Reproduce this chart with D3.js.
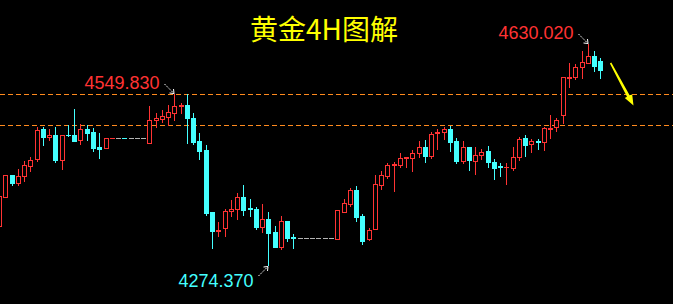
<!DOCTYPE html>
<html>
<head>
<meta charset="utf-8">
<title>黄金4H图解</title>
<style>
  html, body { margin: 0; padding: 0; background: #000; }
  svg { display: block; }
</style>
</head>
<body>
<svg width="673" height="304"></svg>
<script src="https://cdn.jsdelivr.net/npm/d3@7/dist/d3.min.js"></script>
<script>
// 4H gold bars
var open = [
  4337.1, 4383.8, 4419.2, 4406.3, 4417.6, 4433.7, 4444.9, 4493.2, 4480.4, 4483.6,
  4443.3, 4483.6, 4483.6, 4475.5, 4493.2, 4488.4, 4464.3, 4462.6, 4478.6, 4478.7,
  4478.7, 4478.7, 4478.7, 4478.7, 4470.7, 4507.2, 4509.8, 4513.0, 4519.5, 4530.2,
  4531.9, 4510.4, 4473.9, 4459.4, 4359.2, 4329.6, 4333.4, 4360.8, 4364.0, 4383.8,
  4366.1, 4364.5, 4336.0, 4348.4, 4327.5, 4303.8, 4345.2, 4319.4, 4317.3, 4317.3,
  4317.3, 4317.3, 4317.3, 4317.3, 4316.7, 4360.1, 4373.0, 4395.1, 4353.2, 4315.7,
  4331.8, 4403.6, 4418.1, 4435.3, 4435.8, 4446.1, 4447.0, 4454.1, 4464.3, 4450.3,
  4486.3, 4487.9, 4493.2, 4473.9, 4442.2, 4464.3, 4441.3, 4450.9, 4457.8, 4440.1,
  4433.2, 4431.6, 4430.0, 4447.7, 4478.7, 4468.6, 4473.9, 4471.8, 4493.2, 4495.9,
  4516.3, 4575.8, 4577.4, 4592.5, 4599.9, 4610.2, 4602.2
]
var high = [
  4388.6, 4419.2, 4419.2, 4428.9, 4441.7, 4448.1, 4496.4, 4496.4, 4493.2, 4496.4,
  4483.6, 4499.7, 4525.4, 4501.3, 4499.7, 4494.8, 4486.8, 4478.7, 4478.7, 4478.7,
  4478.7, 4478.7, 4478.7, 4478.7, 4530.2, 4519.0, 4523.8, 4531.9, 4549.83, 4534.6,
  4549.0, 4519.0, 4486.8, 4467.0, 4359.2, 4343.1, 4364.0, 4378.5, 4390.2, 4403.1,
  4380.6, 4367.7, 4372.5, 4359.7, 4337.6, 4353.2, 4345.2, 4324.3, 4317.3, 4317.3,
  4317.3, 4317.3, 4317.3, 4317.3, 4362.9, 4380.6, 4397.8, 4401.5, 4356.4, 4333.9,
  4419.2, 4425.6, 4438.0, 4440.6, 4454.6, 4448.6, 4459.4, 4473.4, 4475.5, 4487.9,
  4493.2, 4496.9, 4498.1, 4478.3, 4473.9, 4464.3, 4464.3, 4460.6, 4465.9, 4444.5,
  4438.0, 4438.0, 4464.3, 4480.4, 4483.6, 4477.1, 4477.1, 4496.9, 4515.8, 4510.4,
  4576.4, 4598.9, 4597.8, 4618.3, 4630.02, 4618.3, 4607.5
]
var low = [
  4333.9, 4383.8, 4403.1, 4403.1, 4409.5, 4425.6, 4441.7, 4467.5, 4475.5, 4440.1,
  4428.9, 4482.5, 4473.9, 4469.1, 4475.5, 4457.8, 4446.5, 4462.6, 4478.6, 4478.7,
  4478.6, 4478.7, 4478.7, 4478.7, 4470.7, 4495.9, 4505.0, 4499.7, 4507.7, 4518.5,
  4471.2, 4469.6, 4445.4, 4355.3, 4302.2, 4321.5, 4321.5, 4353.7, 4348.8, 4355.3,
  4353.7, 4332.8, 4328.0, 4274.37, 4303.8, 4300.6, 4313.5, 4302.2, 4317.3, 4317.3,
  4317.3, 4317.3, 4317.3, 4317.3, 4316.7, 4360.1, 4369.8, 4345.7, 4308.6, 4314.6,
  4331.8, 4396.2, 4414.9, 4393.9, 4431.6, 4432.6, 4426.1, 4447.7, 4440.6, 4447.0,
  4461.5, 4476.6, 4458.3, 4439.0, 4439.0, 4426.8, 4421.3, 4444.5, 4432.1, 4413.3,
  4418.1, 4405.2, 4426.8, 4442.8, 4450.3, 4456.7, 4461.5, 4458.9, 4478.7, 4490.5,
  4503.4, 4561.3, 4573.2, 4575.8, 4599.9, 4587.0, 4575.8
]
var close = [
  4385.4, 4419.2, 4406.3, 4417.6, 4435.3, 4443.3, 4491.6, 4480.4, 4483.6, 4443.3,
  4483.6, 4483.0, 4473.9, 4493.2, 4486.8, 4462.6, 4461.0, 4478.7, 4478.7, 4478.7,
  4478.6, 4478.7, 4478.7, 4478.7, 4507.7, 4510.4, 4513.7, 4520.1, 4530.2, 4532.3,
  4511.4, 4472.8, 4458.3, 4358.5, 4329.6, 4330.2, 4361.3, 4364.0, 4383.8, 4362.9,
  4364.0, 4336.0, 4348.4, 4326.3, 4303.8, 4345.2, 4318.3, 4317.3, 4317.3, 4317.3,
  4317.3, 4317.3, 4317.3, 4317.3, 4362.9, 4373.6, 4395.1, 4352.1, 4313.5, 4330.7,
  4404.7, 4418.7, 4434.8, 4437.4, 4446.1, 4447.7, 4454.1, 4463.8, 4450.3, 4484.7,
  4487.9, 4492.7, 4472.8, 4442.2, 4464.3, 4443.3, 4451.4, 4455.7, 4439.6, 4431.0,
  4432.1, 4432.6, 4448.1, 4477.1, 4467.9, 4473.9, 4471.8, 4494.8, 4494.8, 4507.7,
  4576.4, 4576.9, 4592.5, 4600.6, 4610.2, 4595.1, 4588.7
]

var levels = [4550, 4500]                               // orange dashed lines
var noteBars = [28, 94, 43]                             // bars with price notes
var noteLabels = ["4549.830", "4630.020", "4274.370"]
var noteSides = ["high", "high", "low"]
var title = "黄金4H图解"

var red = "#ff3333", cyan = "#44ffff", gray = "#b4b4b4"

var svg = d3.select("svg"),
  width = +svg.attr("width"),
  height = +svg.attr("height")

svg.append("rect").attr("width", width).attr("height", height).attr("fill", "#000")

var x = d3.scaleLinear().domain([0, open.length - 1]).range([-0.96, 600.3])
var y = d3.scaleLinear().domain([4274.37, 4630.02]).range([265, 44])

var bars = open.map((o, i) => ({i: i, o: o, h: high[i], l: low[i], c: close[i]}))
var color = d => d.c > d.o ? red : d.c < d.o ? cyan : gray
var cx = d => Math.round(x(d.i)) + 0.5

// level lines
svg.selectAll(".level")
  .data(levels).enter()
  .append("line")
  .attr("class", "level")
  .attr("x1", 0).attr("x2", width)
  .attr("y1", d => Math.round(y(d)) + 0.5)
  .attr("y2", d => Math.round(y(d)) + 0.5)
  .attr("stroke", "#ff8a1e")
  .attr("stroke-width", 1)
  .attr("stroke-dasharray", "5,3")

var g = svg.append("g").attr("shape-rendering", "crispEdges")

// wicks
g.selectAll(".wick")
  .data(bars.filter(d => d.h > d.l)).enter()
  .append("line")
  .attr("class", "wick")
  .attr("x1", cx).attr("x2", cx)
  .attr("y1", d => Math.round(y(d.h)))
  .attr("y2", d => Math.round(y(d.l)) + 1)
  .attr("stroke", color)

// flat bodies (doji, gaps)
var isFlat = d => Math.abs(Math.round(y(d.o)) - Math.round(y(d.c))) < 1
g.selectAll(".flat")
  .data(bars.filter(isFlat)).enter()
  .append("line")
  .attr("class", "flat")
  .attr("x1", d => cx(d) - 2.5).attr("x2", d => cx(d) + 2.5)
  .attr("y1", d => Math.round(y(d.c)) + 0.5)
  .attr("y2", d => Math.round(y(d.c)) + 0.5)
  .attr("stroke", color)

// rising bars: hollow red
g.selectAll(".up")
  .data(bars.filter(d => d.c > d.o && !isFlat(d))).enter()
  .append("rect")
  .attr("class", "up")
  .attr("x", d => cx(d) - 2)
  .attr("y", d => Math.round(y(d.c)) + 0.5)
  .attr("width", 4)
  .attr("height", d => Math.round(y(d.o)) - Math.round(y(d.c)))
  .attr("fill", "#000")
  .attr("stroke", red)

// falling bars: filled cyan
g.selectAll(".down")
  .data(bars.filter(d => d.c < d.o && !isFlat(d))).enter()
  .append("rect")
  .attr("class", "down")
  .attr("x", d => cx(d) - 2.5)
  .attr("y", d => Math.round(y(d.o)))
  .attr("width", 5)
  .attr("height", d => Math.round(y(d.c)) - Math.round(y(d.o)) + 1)
  .attr("fill", cyan)

// price notes with small dotted arrows
var notes = noteBars.map((b, k) => {
  var d = bars[b], side = noteSides[k]
  var px = cx(d), py = side == "high" ? Math.round(y(d.h)) : Math.round(y(d.l)) + 1
  return {px: px, py: py, side: side, label: noteLabels[k], col: side == "high" ? red : cyan}
})

svg.selectAll(".note")
  .data(notes).enter()
  .append("text")
  .attr("class", "note")
  .attr("x", d => d.px - 15)
  .attr("y", d => d.side == "high" ? d.py - 5.5 : d.py + 20.5)
  .attr("text-anchor", "end")
  .attr("font-family", "'Liberation Sans', Arial, sans-serif")
  .attr("font-size", 18)
  .attr("fill", d => d.col)
  .text(d => d.label)

var arrows = svg.selectAll(".pointer").data(notes).enter()
  .append("g").attr("class", "pointer")
arrows.append("line")
  .attr("x1", d => d.px - 10)
  .attr("y1", d => d.side == "high" ? d.py - 10 : d.py + 10)
  .attr("x2", d => d.px - 0.5)
  .attr("y2", d => d.side == "high" ? d.py - 0.5 : d.py + 0.5)
  .attr("stroke", "#fff")
  .attr("stroke-dasharray", "1.5,1")
arrows.append("path")
  .attr("d", d => d.side == "high"
    ? `M${d.px - 5},${d.py - 1}L${d.px - 0.5},${d.py - 0.5}L${d.px - 1},${d.py - 5}`
    : `M${d.px - 5},${d.py + 1}L${d.px - 0.5},${d.py + 0.5}L${d.px - 1},${d.py + 5}`)
  .attr("fill", "none")
  .attr("stroke", "#fff")

// title
svg.append("text")
  .attr("x", 324)
  .attr("y", 40)
  .attr("text-anchor", "middle")
  .attr("font-family", "'Noto Sans CJK SC', sans-serif")
  .attr("font-size", 28)
  .attr("fill", "#ffff00")
  .text(title)

// yellow arrow pointing down-right, shaft widening toward the head
svg.append("path")
  .attr("d", "M609.9,63.4 L611.3,62.6 L629.6,95.3 L632.2,94.6 L633.5,105.5 L624.8,98 L627,96.8 Z")
  .attr("fill", "#ffff00")
</script>
</body>
</html>
